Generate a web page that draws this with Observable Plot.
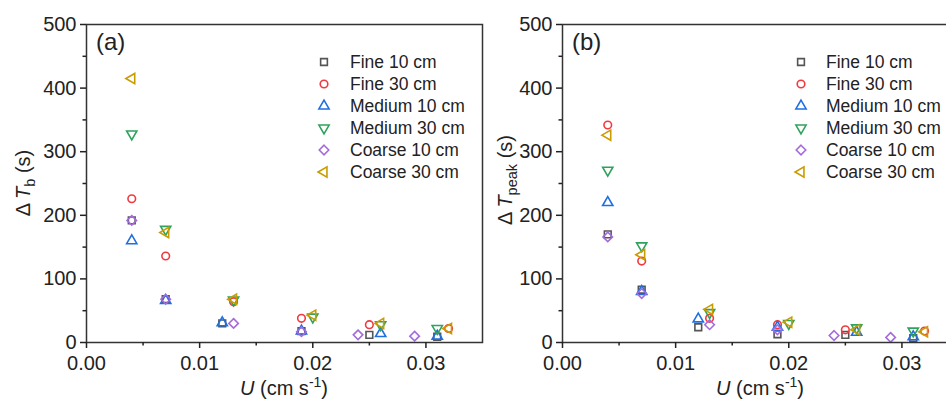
<!DOCTYPE html>
<html><head><meta charset="utf-8">
<script src="https://cdn.jsdelivr.net/npm/d3@7"></script>
<script src="https://cdn.jsdelivr.net/npm/@observablehq/plot@0.6"></script>
<style>
html,body{margin:0;padding:0;background:#fff;}
#wrap{position:relative;width:946px;height:399px;overflow:hidden;background:#fff;}
#wrap svg{position:absolute;top:0;max-width:none;background:transparent;overflow:visible;}
</style></head><body><div id="wrap"></div>
<script>
// ---------- data ----------
const seriesNames = ["Fine 10 cm", "Fine 30 cm", "Medium 10 cm", "Medium 30 cm", "Coarse 10 cm", "Coarse 30 cm"];
const uBySeries = [
  [0.004, 0.007, 0.012, 0.019, 0.025, 0.031],
  [0.004, 0.007, 0.013, 0.019, 0.025, 0.032],
  [0.004, 0.007, 0.012, 0.019, 0.026, 0.031],
  [0.004, 0.007, 0.013, 0.020, 0.026, 0.031],
  [0.004, 0.007, 0.013, 0.019, 0.024, 0.029],
  [0.004, 0.007, 0.013, 0.020, 0.026, 0.032]
];
const dTbBySeries = [
  [192, 68, 30, 18, 12, 9],
  [226, 136, 64, 38, 28, 22],
  [160, 66, 31, 18, 14, 10],
  [328, 178, 67, 40, 28, 22],
  [192, 68, 30, 17, 12, 10],
  [415, 173, 68, 43, 30, 22]
];
const dTpeakBySeries = [
  [170, 83, 24, 13, 12, 7],
  [342, 128, 38, 28, 20, 18],
  [220, 80, 37, 24, 16, 9],
  [271, 152, 47, 30, 23, 18],
  [166, 77, 28, 20, 11, 8],
  [326, 138, 52, 32, 20, 17]
];
const xMajorTicks = [0, 0.01, 0.02, 0.03];
const xMinorTicks = [0.005, 0.015, 0.025];
const yMajorTicks = [0, 100, 200, 300, 400, 500];
const yMinorTicks = [50, 150, 250, 350, 450];
const panelLabels = ["(a)", "(b)"];
const ySubscripts = ["b", "peak"];

// ---------- styles ----------
const colors = ["#555555", "#F03A40", "#1F6FE3", "#2FA35C", "#A56BDD", "#C99C00"];
const sqrt3 = Math.sqrt(3);
const triDown = {draw(ctx, size) { const y = -Math.sqrt(size / (sqrt3 * 3)); ctx.moveTo(0, -y * 2); ctx.lineTo(-sqrt3 * y, y); ctx.lineTo(sqrt3 * y, y); ctx.closePath(); }};
const triLeft = {draw(ctx, size) { const y = -Math.sqrt(size / (sqrt3 * 3)); ctx.moveTo(y * 2, 0); ctx.lineTo(-y, -sqrt3 * y); ctx.lineTo(-y, sqrt3 * y); ctx.closePath(); }};
const diamond = {draw(ctx, size) { const d = Math.sqrt(size / 2); ctx.moveTo(0, -d); ctx.lineTo(d, 0); ctx.lineTo(0, d); ctx.lineTo(-d, 0); ctx.closePath(); }};
const symbols = [d3.symbolSquare, d3.symbolCircle, d3.symbolTriangle, triDown, diamond, triLeft];
const FONT = "'Liberation Sans', Arial, sans-serif";
const R = 3.8, SW = 1.6;

function makePanel(ySeries, idx) {
  const marks = [];
  seriesNames.forEach((name, i) => {
    const data = uBySeries[i].map((u, j) => ({u, v: ySeries[i][j]}));
    marks.push(Plot.dot(data, {x: "u", y: "v", symbol: symbols[i], stroke: colors[i], strokeWidth: SW, r: R, fill: "none"}));
  });
  marks.push(
    Plot.frame({stroke: "#333", strokeWidth: 1.5}),
    Plot.axisX({ticks: xMajorTicks, tickFormat: d3.format(".2f"), tickSize: 6, tickPadding: 7, fontSize: 20, strokeWidth: 1.5, label: null}),
    Plot.axisX({ticks: xMinorTicks, tickFormat: () => "", tickSize: 3.5, strokeWidth: 1.5, label: null}),
    Plot.axisY({ticks: yMajorTicks, tickSize: 6, tickPadding: 4, fontSize: 20, strokeWidth: 1.5, label: null}),
    Plot.axisY({ticks: yMinorTicks, tickFormat: () => "", tickSize: 3.5, strokeWidth: 1.5, label: null})
  );
  const svg = Plot.plot({
    width: 490, height: 399,
    marginLeft: 86, marginRight: 8, marginTop: 24, marginBottom: 57,
    x: {domain: [0, 0.035], label: null},
    y: {domain: [0, 500], label: null},
    style: {fontFamily: FONT, color: "#222", background: "transparent", overflow: "visible"},
    marks
  });
  const s = d3.select(svg);
  // panel label
  s.append("text").attr("x", 96).attr("y", 50).attr("font-size", 24).attr("fill", "#222")
    .attr("text-anchor", "start").attr("font-family", FONT).text(panelLabels[idx]);
  // legend
  const lg = s.append("g").attr("font-family", FONT).attr("font-size", 17.5).attr("fill", "#222").attr("text-anchor", "start");
  seriesNames.forEach((name, i) => {
    const y = 62 + i * 22;
    lg.append("path").attr("transform", `translate(${idx ? 325 : 324},${y})`)
      .attr("d", d3.symbol(symbols[i], R * R * Math.PI)())
      .attr("fill", "none").attr("stroke", colors[i]).attr("stroke-width", SW);
    lg.append("text").attr("x", 350).attr("y", y).attr("dy", "0.35em").attr("text-anchor", "start").text(name);
  });
  // y label
  const yl = s.append("text").attr("transform", `translate(${idx ? 36 : 30},${idx ? 180 : 183}) rotate(-90)`)
    .attr("text-anchor", "middle").attr("font-family", FONT).attr("font-size", 20).attr("fill", "#222");
  yl.append("tspan").text("\u0394\u2009");
  yl.append("tspan").attr("font-style", "italic").text("T");
  yl.append("tspan").attr("font-size", 14.5).attr("dy", 5).text(ySubscripts[idx]);
  yl.append("tspan").attr("dy", -5).text(" (s)");
  // x label
  const xl = s.append("text").attr("x", 284).attr("y", 395).attr("text-anchor", "middle")
    .attr("font-family", FONT).attr("font-size", 20).attr("fill", "#222");
  xl.append("tspan").attr("font-style", "italic").text("U");
  xl.append("tspan").text(" (cm s");
  xl.append("tspan").attr("font-size", 14).attr("dy", -8).text("-1");
  xl.append("tspan").attr("dy", 8).text(")");
  return svg;
}

const wrap = document.getElementById("wrap");
const a = makePanel(dTbBySeries, 0);
a.style.left = "0px";
const b = makePanel(dTpeakBySeries, 1);
b.style.left = "476px";
wrap.appendChild(a);
wrap.appendChild(b);
</script></body></html>
